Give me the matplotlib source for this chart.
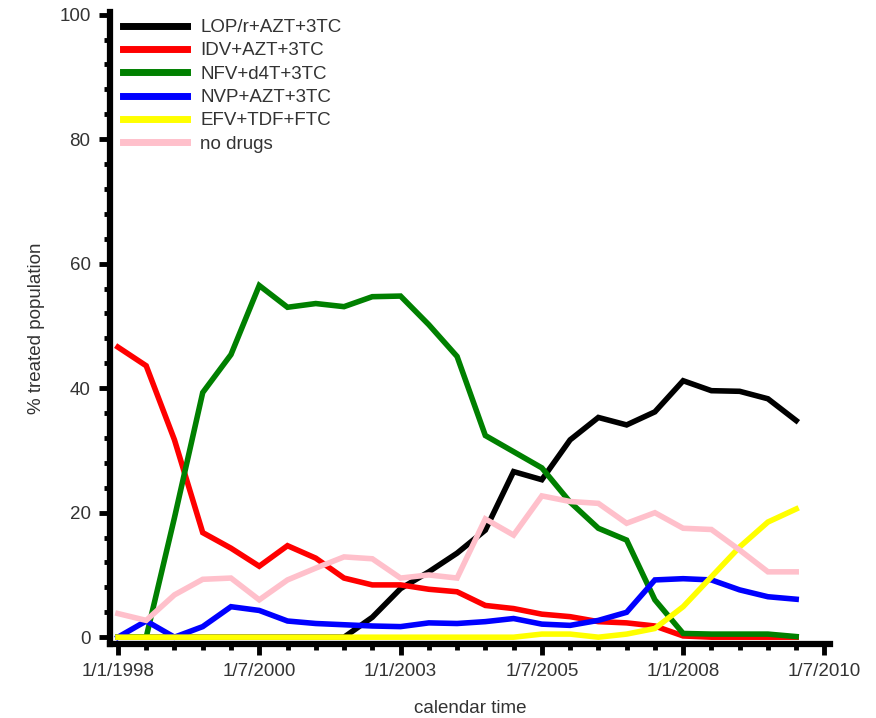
import numpy as np
import matplotlib
matplotlib.use('Agg')
from matplotlib import pyplot as plt
from matplotlib.ticker import FixedLocator, MultipleLocator

plt.rcParams['font.family'] = ['Liberation Sans', 'DejaVu Sans']

# half-yearly time points (decimal years)
years = [1998.0, 1998.5, 1999.0, 1999.5, 2000.0, 2000.5, 2001.0, 2001.5,
         2002.0, 2002.5, 2003.0, 2003.5, 2004.0, 2004.5, 2005.0, 2005.5,
         2006.0, 2006.5, 2007.0, 2007.5, 2008.0, 2008.5, 2009.0, 2009.5, 2010.0]

lop_azt_3tc = [0, 0, 0, 0, 0, 0, 0, 0, 0, 3.2, 7.8, 10.5, 13.5, 17.2, 26.6,
               25.3, 31.7, 35.3, 34.1, 36.2, 41.2, 39.6, 39.5, 38.3, 34.8]
idv_azt_3tc = [46.6, 43.6, 31.7, 16.8, 14.3, 11.4, 14.7, 12.7, 9.5, 8.4, 8.4,
               7.7, 7.3, 5.1, 4.6, 3.7, 3.3, 2.5, 2.3, 1.8, 0.2, 0, 0, 0, 0]
nfv_d4t_3tc = [0, 0, 19.2, 39.3, 45.4, 56.5, 53.0, 53.6, 53.1, 54.7, 54.8,
               50.2, 45.1, 32.4, 29.8, 27.2, 21.7, 17.5, 15.6, 6.0, 0.6, 0.5,
               0.5, 0.5, 0.1]
nvp_azt_3tc = [0, 2.6, 0, 1.7, 4.9, 4.3, 2.6, 2.2, 2.0, 1.8, 1.7, 2.3, 2.2,
               2.5, 3.0, 2.1, 1.9, 2.7, 4.0, 9.2, 9.4, 9.2, 7.6, 6.5, 6.1]
efv_tdf_ftc = [0, 0, 0, 0, 0, 0, 0, 0, 0, 0, 0, 0, 0, 0, 0, 0.5, 0.5, 0, 0.5,
               1.4, 4.9, 9.7, 14.5, 18.5, 20.6]
no_drugs = [3.8, 2.7, 6.8, 9.3, 9.5, 6.0, 9.2, 11.1, 12.9, 12.6, 9.5, 10.0,
            9.5, 19.0, 16.4, 22.7, 21.8, 21.5, 18.3, 20.0, 17.5, 17.3, 14.0,
            10.5, 10.5]

series = [
    ('LOP/r+AZT+3TC', lop_azt_3tc, '#000000'),
    ('IDV+AZT+3TC', idv_azt_3tc, '#ff0000'),
    ('NFV+d4T+3TC', nfv_d4t_3tc, '#008000'),
    ('NVP+AZT+3TC', nvp_azt_3tc, '#0000ff'),
    ('EFV+TDF+FTC', efv_tdf_ftc, '#ffff00'),
    ('no drugs', no_drugs, '#ffc0cb'),
]

tick_pos = [1998.0, 2000.5, 2003.0, 2005.5, 2008.0, 2010.5]
tick_labels = ['1/1/1998', '1/7/2000', '1/1/2003', '1/7/2005', '1/1/2008', '1/7/2010']

text_color = '#333333'
fsize = 13.5

fig = plt.figure(figsize=(8.76, 7.18), dpi=100)
ax = fig.add_axes([0.1256, 0.103, 0.822, 0.880])

for name, vals, col in series:
    ax.plot(years, vals, color=col, linewidth=4, label=name, solid_joinstyle='miter')

ax.set_xlim(1997.86, 2010.6)
ax.set_ylim(-1.1, 100.4)

ax.xaxis.set_major_locator(FixedLocator(tick_pos))
ax.set_xticklabels(tick_labels)
ax.xaxis.set_minor_locator(MultipleLocator(0.5))
ax.yaxis.set_major_locator(FixedLocator([0, 20, 40, 60, 80, 100]))
ax.yaxis.set_minor_locator(MultipleLocator(4))

for side in ['top', 'right']:
    ax.spines[side].set_visible(False)
for side in ['left', 'bottom']:
    ax.spines[side].set_linewidth(4.5)
    ax.spines[side].set_capstyle('projecting')

ax.tick_params(which='major', length=8, width=3.5, direction='out',
               labelsize=fsize, labelcolor=text_color, pad=6)
ax.tick_params(which='minor', length=4, width=3.5, direction='out')

ax.set_xlabel('calendar time', fontsize=fsize, color=text_color, labelpad=14)
ax.set_ylabel('% treated population', fontsize=fsize, color=text_color, labelpad=10)

leg = ax.legend(loc='upper left', bbox_to_anchor=(0.0, 1.01), frameon=False,
                fontsize=fsize, handlelength=3.4, handletextpad=0.7,
                labelspacing=0.33, borderaxespad=0.3)
for t in leg.get_texts():
    t.set_color(text_color)
for h in leg.get_lines():
    h.set_linewidth(5)

fig.savefig('out.png', dpi=100)
plt.close()
